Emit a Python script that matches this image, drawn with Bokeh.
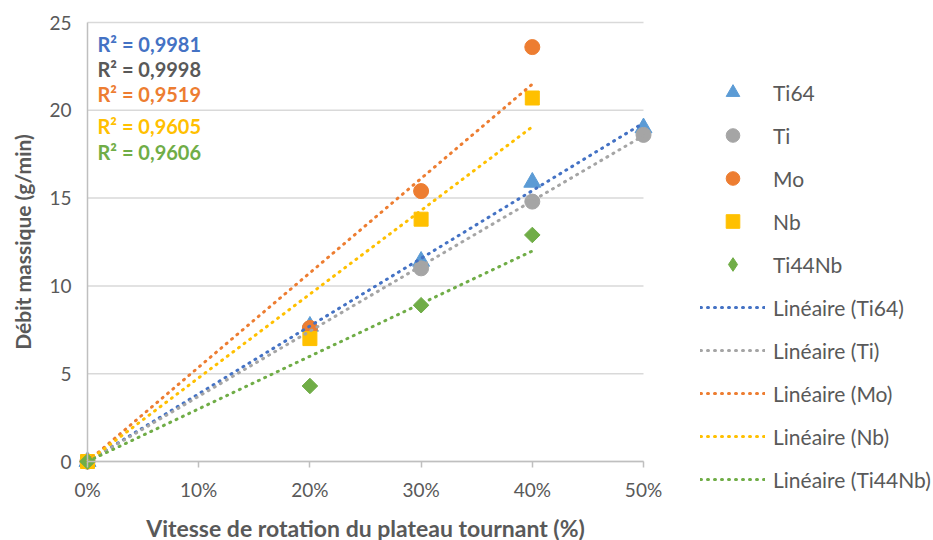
import math
from bokeh.plotting import figure
from bokeh.layouts import row
from bokeh.models import (Range1d, FixedTicker, NumeralTickFormatter, Legend, LegendItem, Label)
from bokeh.embed import file_html
from bokeh.resources import INLINE

# ---- data ----
series_names = ["Ti64", "Ti", "Mo", "Nb", "Ti44Nb"]
x_ti64 = [0.0, 0.2, 0.3, 0.4, 0.5]
y_ti64 = [0.0, 7.7, 11.4, 15.9, 19.0]
x_ti = [0.0, 0.2, 0.3, 0.4, 0.5]
y_ti = [0.0, 7.6, 11.0, 14.8, 18.6]
x_mo = [0.0, 0.2, 0.3, 0.4]
y_mo = [0.0, 7.6, 15.4, 23.6]
x_nb = [0.0, 0.2, 0.3, 0.4]
y_nb = [0.0, 7.0, 13.8, 20.7]
x_ti44nb = [0.0, 0.2, 0.3, 0.4]
y_ti44nb = [0.0, 4.3, 8.9, 12.9]
r2_labels = ["R² = 0,9981", "R² = 0,9998", "R² = 0,9519", "R² = 0,9605", "R² = 0,9606"]
x_ticks = [0.0, 0.1, 0.2, 0.3, 0.4, 0.5]
y_ticks = [0, 5, 10, 15, 20, 25]
x_title = "Vitesse de rotation du plateau tournant (%)"
y_title = "Débit massique (g/min)"

FONT = "Lato"
GREY_TXT = "#595959"

# ---- layout geometry (pixels) ----
W1, W2, H = 670, 263, 540
PX_LEFT, PX_RIGHT = 87, 643     # where x = first / last tick sits
PX_TOP, PX_ZERO = 22, 461       # where y = top tick / 0 sits
X0, X1 = x_ticks[0], x_ticks[-1]
Y0, Y1 = y_ticks[0], y_ticks[-1]
sx = (PX_RIGHT - PX_LEFT) / (X1 - X0)
sy = (PX_ZERO - PX_TOP) / (Y1 - Y0)
x_range = Range1d(X0 - PX_LEFT / sx, X1 + (W1 - PX_RIGHT) / sx)
y_range = Range1d(Y0 - (H - PX_ZERO) / sy, Y1 + PX_TOP / sy)

p = figure(width=W1, height=H, output_backend="svg", toolbar_location=None,
           x_range=x_range, y_range=y_range,
           min_border_left=0, min_border_top=0, min_border_bottom=0, min_border_right=0)
p.outline_line_color = None
p.background_fill_color = "white"
p.grid.visible = False

# horizontal gridlines limited to the data area
p.segment(x0=X0, x1=X1, y0=y_ticks, y1=y_ticks, line_color="#D9D9D9", line_width=1.5)

# axes drawn at x = 0 / y = 0
p.xaxis.ticker = FixedTicker(ticks=x_ticks)
p.xaxis.formatter = NumeralTickFormatter(format="0%")
p.xaxis.fixed_location = Y0
p.xaxis.bounds = (X0, X1)
p.yaxis.ticker = FixedTicker(ticks=y_ticks)
p.yaxis.fixed_location = X0
p.yaxis.bounds = (Y0, Y1)
for ax in (p.xaxis[0], p.yaxis[0]):
    ax.axis_line_color = "#BFBFBF"
    ax.axis_line_width = 1.5
    ax.major_label_text_font = FONT
    ax.major_label_text_font_size = "19px"
    ax.major_label_text_color = GREY_TXT
    ax.minor_tick_line_color = None
p.xaxis.major_tick_line_color = "#BFBFBF"
p.xaxis.major_tick_line_width = 1.5
p.xaxis.major_tick_out = 6
p.xaxis.major_tick_in = 0
p.yaxis.major_tick_line_color = None
p.yaxis.major_tick_out = 0
p.yaxis.major_tick_in = 0
p.xaxis.major_label_standoff = 10
p.yaxis.major_label_standoff = 16

# axis titles
p.add_layout(Label(x=(X0 + X1) / 2, y=13, y_units="screen", text=x_title,
                   text_font=FONT, text_font_size="23px", text_font_style="bold",
                   text_color=GREY_TXT, text_align="center", text_baseline="middle"))
p.add_layout(Label(x=22, x_units="screen", y=(Y0 + Y1) / 2, text=y_title, angle=math.pi / 2,
                   text_font=FONT, text_font_size="21px", text_font_style="bold",
                   text_color=GREY_TXT, text_align="center", text_baseline="middle"))

xs = [x_ti64, x_ti, x_mo, x_nb, x_ti44nb]
ys = [y_ti64, y_ti, y_mo, y_nb, y_ti44nb]
marker_colors = ["#5B9BD5", "#A5A5A5", "#ED7D31", "#FFC000", "#70AD47"]
line_colors = ["#4472C4", "#A5A5A5", "#ED7D31", "#FFC000", "#70AD47"]
label_colors = ["#4472C4", "#595959", "#ED7D31", "#FFC000", "#70AD47"]
markers = ["triangle", "circle", "circle", "square", "square"]
legend_markers = ["triangle", "circle", "circle", "square", "diamond"]
sizes = [17, 15, 15, 14, 11]
angles = [0, 0, 0, 0, math.pi / 4]
DASH = "1 6"


def trend(x, y):
    # linear trendline through the origin (least squares)
    k = sum(a * b for a, b in zip(x, y)) / sum(a * a for a in x)
    xmax = max(x)
    return [0, xmax], [0, k * xmax]


for x, y, m, s, a, c in zip(xs, ys, markers, sizes, angles, marker_colors):
    p.scatter(x, y, marker=m, size=s, angle=a, fill_color=c, line_color=c)

for x, y, c in zip(xs, ys, line_colors):
    tx, ty = trend(x, y)
    p.line(tx, ty, line_color=c, line_width=3, line_dash=DASH, line_cap="round")

# R² labels
r2_y = [23.75, 22.38, 20.9, 19.08, 17.6]
for txt, yy, c in zip(r2_labels, r2_y, label_colors):
    p.add_layout(Label(x=0.009, y=yy, text=txt, text_color=c, text_font=FONT,
                       text_font_size="20px", text_font_style="bold", text_baseline="middle"))

# ---- legend panel (separate figure to the right; its data lies outside its view) ----
p2 = figure(width=W2, height=H, output_backend="svg", toolbar_location=None,
            x_range=Range1d(10, 11), y_range=Range1d(10, 11),
            min_border_left=0, min_border_right=0, min_border_top=0, min_border_bottom=0)
p2.axis.visible = False
p2.grid.visible = False
p2.outline_line_color = None

marker_items = []
line_items = []
for name, x, y, m, s, c in zip(series_names, xs, ys, legend_markers, sizes, marker_colors):
    r = p2.scatter(x, y, marker=m, size=s, fill_color=c, line_color=c)
    marker_items.append(LegendItem(label=name, renderers=[r]))
for name, x, y, c in zip(series_names, xs, ys, line_colors):
    tx, ty = trend(x, y)
    r = p2.line(tx, ty, line_color=c, line_width=3, line_dash=DASH, line_cap="round")
    line_items.append(LegendItem(label="Linéaire (" + name + ")", renderers=[r]))

legend = Legend(items=marker_items + line_items,
                label_text_font=FONT, label_text_font_size="21px", label_text_color=GREY_TXT,
                glyph_width=65, glyph_height=34, label_height=34, spacing=9,
                label_standoff=8, border_line_color=None, background_fill_alpha=0,
                padding=0, margin=0, location=(700 - W1, 44))
p2.add_layout(legend)

layout = row(p, p2)
open("out.html", "w").write(file_html(layout, INLINE))
